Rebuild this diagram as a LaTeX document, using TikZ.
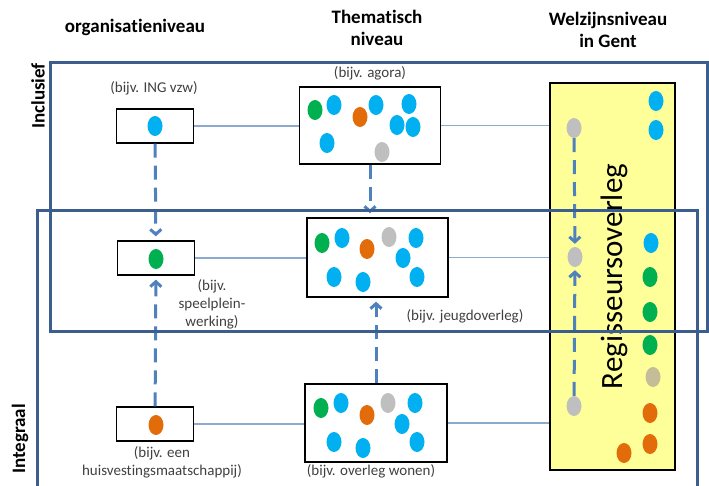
\documentclass[tikz,border=0pt]{standalone}
\usepackage{fontspec}
\setmainfont{Carlito}[Ligatures=NoCommon]
\usetikzlibrary{arrows.meta,shapes.geometric}
\definecolor{frameblue}{HTML}{3C5E8E}
\definecolor{dashblue}{HTML}{4F81BD}
\definecolor{linkblue}{HTML}{8DA9CB}
\definecolor{regyellow}{HTML}{FFFF99}
\definecolor{cblue}{HTML}{00B0F0}
\definecolor{cgreen}{HTML}{00B050}
\definecolor{corange}{HTML}{E36C0A}
\definecolor{cgray}{HTML}{BFBFBF}
\definecolor{ctan}{HTML}{C4BD97}
\tikzstyle{arrow} = [-{Straight Barb[length=5pt,width=11pt]},dashblue,line width=3pt,dash pattern=on 14pt off 8pt,shorten >=4pt]
\tikzstyle{link} = [linkblue,line width=1.2pt]
\tikzstyle{frame} = [frameblue,line width=3pt]
\tikzstyle{box} = [draw,line width=1.3pt,fill=white]
\tikzstyle{blob} = [ellipse,inner sep=0pt,minimum width=15pt,minimum height=20pt]
\tikzstyle{head} = [font=\fontsize{19}{22}\selectfont\bfseries,align=center]
\tikzstyle{note} = [font=\fontsize{15}{18}\selectfont,align=center,text=black!75]

\begin{document}
\begin{tikzpicture}[x=1pt,y=-1pt]
        \useasboundingbox (0,0) rectangle (709,485);
        \node[head] at (135,27) (org) {organisatieniveau};
        \node[head] at (377,28) (them) {Thematisch\\niveau};
        \node[head] at (608,30) (welz) {Welzijnsniveau\\in Gent};
        \node[head, rotate=90] at (38,96) (incl) {Inclusief};
        \node[head, rotate=90] at (20,439) (integ) {Integraal};

        \node[draw, line width=2.5pt, fill=regyellow, minimum width=125pt, minimum height=387pt] at (612.5,276.5) (regie) {};
        \node[font=\fontsize{31}{31}\selectfont, rotate=90] at (614,276.5) (regtxt) {Regisseursoverleg};

        \node[box, minimum width=77pt, minimum height=34pt] at (155,126) (o1) {};
        \node[box, minimum width=77pt, minimum height=34pt] at (156,258) (o2) {};
        \node[box, minimum width=77pt, minimum height=34pt] at (155,424) (o3) {};
        \node[box, minimum width=141pt, minimum height=77pt] at (370,125.5) (t1) {};
        \node[box, minimum width=141pt, minimum height=79pt] at (377.5,257.5) (t2) {};
        \node[box, minimum width=142pt, minimum height=78pt] at (376,423) (t3) {};

        \node[note] at (154,88) (ing) {(bijv. ING vzw)};
        \node[note] at (370,73) (agora) {(bijv. agora)};
        \node[note] at (212,304) (speel) {(bijv.\\speelplein-\\werking)};
        \node[note] at (465,316) (jeugd) {(bijv. jeugdoverleg)};
        \node[note] at (162,462) (huis) {(bijv. een\\huisvestingsmaatschappij)};
        \node[note] at (371,471) (wonen) {(bijv. overleg wonen)};

        \node[blob, fill=cblue] at (155,126) (d1) {};
        \node[blob, fill=cgreen] at (156,259) (d2) {};
        \node[blob, fill=corange] at (156,425) (d3) {};
        \foreach \x/\y/\c [count=\i] in {315/110/cgreen, 334/105/cblue, 360/117/corange, 376/105/cblue, 409/104/cblue,
                397/125/cblue, 413/127/cblue, 327/143/cblue, 382/152/cgray}
            \node[blob, fill=\c] at (\x,\y) (a\i) {};
        \foreach \x/\y/\c [count=\i] in {322/243/cgreen, 342/238/cblue, 367/249/corange, 389/237/cgray, 416/238/cblue,
                403/258/cblue, 334/277/cblue, 363/282/cblue, 417/277/cblue}
            \node[blob, fill=\c] at (\x,\y) (b\i) {};
        \foreach \x/\y/\c [count=\i] in {321/408/cgreen, 341/403/cblue, 367/415/corange, 388/403/cgray, 415/403/cblue,
                402/424/cblue, 334/442/cblue, 363/448/cblue, 417/442/cblue}
            \node[blob, fill=\c] at (\x,\y) (c\i) {};
        \foreach \x/\y/\c [count=\i] in {656/101/cblue, 656/130/cblue, 651/243/cblue, 650/277/cgreen, 650/312/cgreen,
                650/345/cgreen, 653/377/ctan, 650/413/corange, 650/444/corange, 624/453/corange}
            \node[blob, fill=\c] at (\x,\y) (r\i) {};
        \node[blob, fill=cgray] at (574,128) (g1) {};
        \node[blob, fill=cgray] at (575,257) (g2) {};
        \node[blob, fill=cgray] at (574,406) (g3) {};

        \draw[link] (o1.east) -- (o1.east -| t1.west);
        \draw[link] (t1.east) -- (t1.east -| regie.west);
        \draw[link] (o2.east) -- (o2.east -| t2.west);
        \draw[link] (t2.east) -- (t2.east -| regie.west);
        \draw[link] (o3.east) -- (o3.east -| t3.west);
        \draw[link] (t3.east) -- (t3.east -| regie.west);

        \draw[arrow] (o1) -- (o2);
        \draw[arrow] (o3) -- (o2);
        \draw[arrow] (t1.south) -- (t1.south |- t2.north);
        \draw[arrow] (t3.north) -- (t3.north |- t2.south);
        \draw[arrow, shorten >=3pt] (g1) -- (g2);
        \draw[arrow, shorten >=3pt] (g3) -- (g2);

        \draw[frame] (50,62) rectangle (707,331);
        \draw[frame] (37,490) -- (37,210) -- (697,210) -- (697,490);
\end{tikzpicture}
\end{document}
